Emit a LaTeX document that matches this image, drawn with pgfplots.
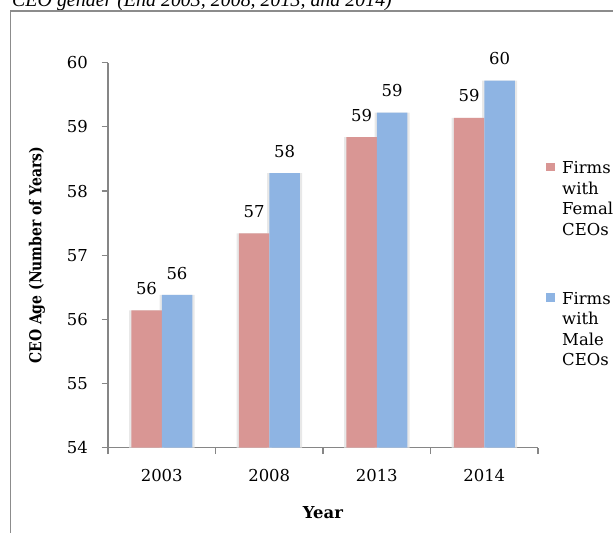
\documentclass[border=0pt]{standalone}
\usepackage{fontspec}
\setmainfont{DejaVu Serif}
\newfontfamily\titlefont{Liberation Serif}
\usepackage{graphicx}
\usepackage{pgfplots}
\pgfplotsset{compat=1.18}

\definecolor{femalebar}{HTML}{D99694}
\definecolor{malebar}{HTML}{8EB4E3}
\definecolor{axisgray}{HTML}{868686}
\definecolor{framegray}{HTML}{8C8C8C}

\newcommand\chartfont{\fontsize{16.5}{21.3}\selectfont}

% Mean CEO age by year and CEO gender
\pgfplotstableread{
x year value
0 2003 56.14
1 2008 57.34
2 2013 58.84
3 2014 59.14
}\femaletable
\pgfplotstableread{
x year value
0 2003 56.38
1 2008 58.28
2 2013 59.22
3 2014 59.72
}\maletable

\begin{document}
\begin{tikzpicture}[x=1bp,y=1bp]
\path[use as bounding box, clip] (0,0) rectangle (613,533);
% caption line above the chart frame
\node[anchor=base west, inner sep=0pt, font=\titlefont\itshape\fontsize{20}{24}\selectfont]
  at (12,526.5) {CEO gender (End 2003, 2008, 2013, and 2014)};
% chart frame
\draw[framegray, line width=1.5bp] (10.5,-5) -- (10.5,522) -- (620,522);

\begin{axis}[
  at={(108bp,85.3bp)}, anchor=south west,
  width=430bp, height=385bp, scale only axis,
  xmin=-0.5, xmax=3.5, ymin=54, ymax=60,
  axis lines*=left,
  axis line style={axisgray, line width=1.2bp},
  /pgf/number format/assume math mode=true,
  ybar=0pt, bar width=30.5bp,
  ytick={54,55,...,60},
  xtick={-0.5,0.5,1.5,2.5,3.5},
  xticklabels={,,,,},
  extra x ticks={0,1,2,3},
  extra x tick labels={2003,2008,2013,2014},
  extra x tick style={tick style={draw=none}},
  tick align=outside,
  major tick length=6.5bp,
  tick style={axisgray, line width=1.2bp},
  every tick label/.append style={font=\chartfont, text=black},
  yticklabel style={anchor=east, inner sep=0pt, xshift=-13.5bp},
  xticklabel style={anchor=north, inner sep=0pt, yshift=-15bp},
  xlabel={\textbf{Year}},
  ylabel={\scalebox{0.85}[1]{\textbf{CEO Age (Number of Years)}}},
  every axis x label/.style={at={(axis description cs:0.5,-0.1696)}, anchor=center, font=\chartfont},
  every axis y label/.style={at={(axis description cs:-0.165,0.5)}, rotate=90, anchor=center, font=\chartfont},
  valuelabels/.style={
    nodes near coords={\pgfmathprintnumber[fixed,precision=0]{\pgfplotspointmeta}},
    every node near coord/.append style={font=\chartfont, text=black, anchor=south, inner sep=0pt, yshift=15.5bp}},
  glow/.style={fill=black!9, draw=none, bar width=35bp, forget plot},
  squarelegend/.style={legend image code/.code={\fill[##1] (0bp,2.4bp) rectangle (8.6bp,11bp);}},
  legend style={draw=none, fill=none, at={(axis description cs:1.0186,0.7556)}, anchor=north west,
    inner sep=0pt, row sep=0pt, column sep=5.4bp, font=\chartfont,
    cells={anchor=base west, inner sep=0pt, text height=14.9bp, text depth=6.2bp}},
]
% soft shading behind the bars
\addplot[glow, bar shift=-15.25bp] table[x=x, y=value] {\femaletable};
\addplot[glow, bar shift=15.25bp] table[x=x, y=value] {\maletable};

\addplot[fill=femalebar, draw=none, squarelegend, valuelabels, bar shift=-15.25bp] table[x=x, y=value] {\femaletable};
\addlegendentry{Firms}
\addlegendimage{empty legend}\addlegendentry{with}
\addlegendimage{empty legend}\addlegendentry{Female}
\addlegendimage{empty legend}\addlegendentry{CEOs}
\addlegendimage{empty legend}\addlegendentry{}
\addlegendimage{empty legend}\addlegendentry[text depth=9.6bp]{}
\addplot[fill=malebar, draw=none, squarelegend, valuelabels, bar shift=15.25bp] table[x=x, y=value] {\maletable};
\addlegendentry{Firms}
\addlegendimage{empty legend}\addlegendentry{with}
\addlegendimage{empty legend}\addlegendentry{Male}
\addlegendimage{empty legend}\addlegendentry{CEOs}
\end{axis}
\end{tikzpicture}
\end{document}
